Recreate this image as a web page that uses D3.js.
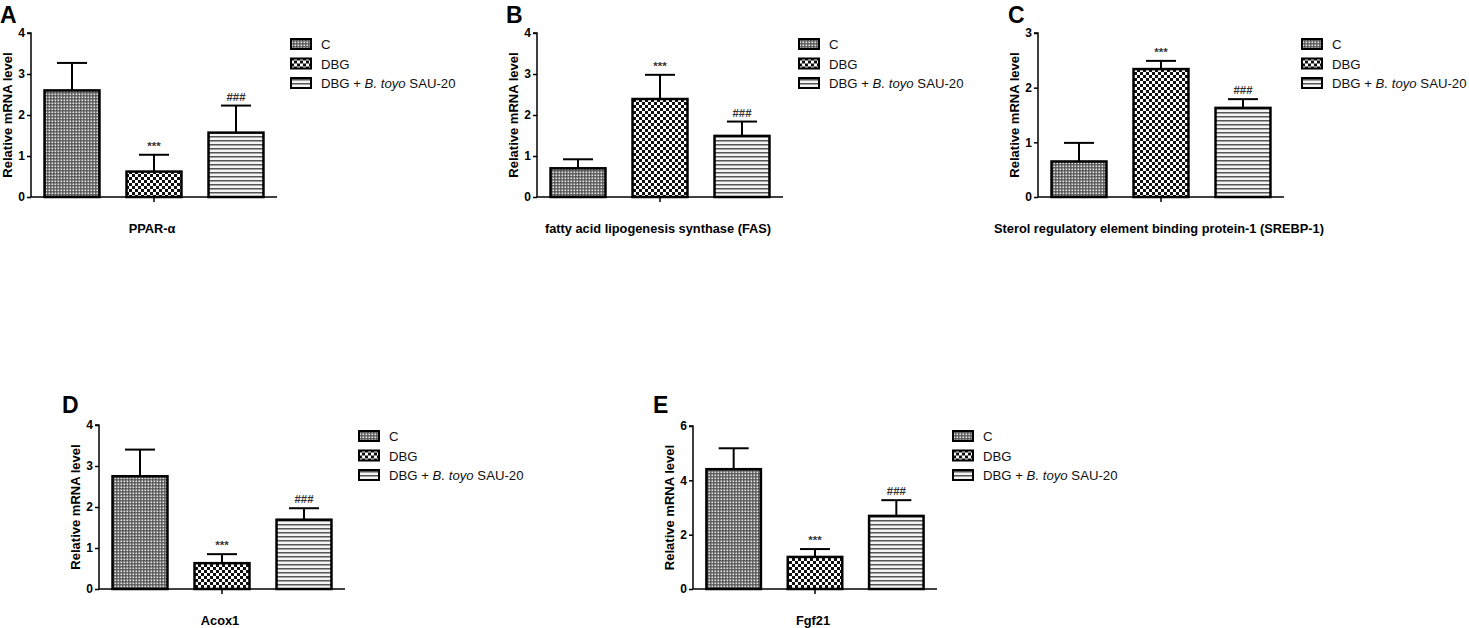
<!DOCTYPE html>
<html>
<head>
<meta charset="utf-8">
<script src="https://cdn.jsdelivr.net/npm/d3@7"></script>
<style>
  html, body { margin: 0; padding: 0; background: #fff; }
  svg { display: block; }
  text { font-family: "Liberation Sans", Arial, sans-serif; }
</style>
</head>
<body>
<svg id="chart" width="1469" height="628"></svg>
<script>
// ---- data ----
const groups = ["C", "DBG", "DBG + B. toyo SAU-20"];
const panelIds = ["A", "B", "C", "D", "E"];
const genes = ["PPAR-α", "fatty acid lipogenesis synthase (FAS)", "Sterol regulatory element binding protein-1 (SREBP-1)", "Acox1", "Fgf21"];
const meansA = [2.60, 0.62, 1.57];
const errA   = [3.27, 1.03, 2.23];
const meansB = [0.70, 2.39, 1.49];
const errB   = [0.92, 2.98, 1.84];
const meansC = [0.65, 2.34, 1.63];
const errC   = [0.99, 2.49, 1.79];
const meansD = [2.75, 0.63, 1.69];
const errD   = [3.40, 0.85, 1.97];
const meansE = [4.41, 1.18, 2.69];
const errE   = [5.18, 1.47, 3.27];
const yMax = [4, 4, 3, 4, 6];
const yTicks = [[0,1,2,3,4],[0,1,2,3,4],[0,1,2,3],[0,1,2,3,4],[0,2,4,6]];
const sigLabels = ["", "***", "###"];

// ---- layout (positions only) ----
const layout = [
  {x0: 31,   top: 33,  bottom: 197, w: 246, letterX: 0,   letterY: 23,  legX: 291,  legY: 44,  titleY: 233},
  {x0: 537,  top: 33,  bottom: 197, w: 246, letterX: 506, letterY: 23,  legX: 799,  legY: 44,  titleY: 233},
  {x0: 1038, top: 33,  bottom: 197, w: 246, letterX: 1008,letterY: 23,  legX: 1302, legY: 44,  titleY: 233},
  {x0: 99,   top: 425, bottom: 589, w: 246, letterX: 62,  letterY: 413, legX: 359,  legY: 436, titleY: 625},
  {x0: 693,  top: 426, bottom: 589, w: 244, letterX: 653, letterY: 413, legX: 953,  legY: 436, titleY: 625}
];
const means = [meansA, meansB, meansC, meansD, meansE];
const errs = [errA, errB, errC, errD, errE];

const svg = d3.select("#chart");
const defs = svg.append("defs");

// pattern C: fine grey dot grid
const pC = defs.append("pattern").attr("id", "patC").attr("patternUnits", "userSpaceOnUse")
  .attr("width", 3).attr("height", 3);
pC.append("rect").attr("width", 3).attr("height", 3).attr("fill", "#5a5a5a");
pC.append("rect").attr("x", 0.5).attr("y", 0.5).attr("width", 1.6).attr("height", 1.6).attr("fill", "#e8e8e8");

// pattern DBG: checkerboard
const pD = defs.append("pattern").attr("id", "patD").attr("patternUnits", "userSpaceOnUse")
  .attr("width", 6).attr("height", 6);
pD.append("rect").attr("width", 6).attr("height", 6).attr("fill", "#fff");
pD.append("rect").attr("x", 0).attr("y", 0).attr("width", 3).attr("height", 3).attr("fill", "#111");
pD.append("rect").attr("x", 3).attr("y", 3).attr("width", 3).attr("height", 3).attr("fill", "#111");

// pattern third: horizontal lines
const pH = defs.append("pattern").attr("id", "patH").attr("patternUnits", "userSpaceOnUse")
  .attr("width", 4).attr("height", 4);
pH.append("rect").attr("width", 4).attr("height", 4).attr("fill", "#f4f4f4");
pH.append("rect").attr("x", 0).attr("y", 0).attr("width", 4).attr("height", 1.5).attr("fill", "#555");

const fills = ["url(#patC)", "url(#patD)", "url(#patH)"];

layout.forEach((L, i) => {
  const g = svg.append("g");
  const x = d3.scaleBand().domain(groups).range([L.x0, L.x0 + L.w]).paddingInner(0.33).paddingOuter(0.165);
  const y = d3.scaleLinear().domain([0, yMax[i]]).range([L.bottom, L.top]);

  const data = groups.map((gname, k) => ({g: gname, v: means[i][k], e: errs[i][k], s: sigLabels[k], f: fills[k]}));

  // error bars (drawn before bars so bar covers the lower part)
  const eb = g.selectAll(".eb").data(data).enter().append("g");
  eb.append("line")
    .attr("x1", d => x(d.g) + x.bandwidth()/2).attr("x2", d => x(d.g) + x.bandwidth()/2)
    .attr("y1", d => y(d.v)).attr("y2", d => y(d.e))
    .attr("stroke", "#000").attr("stroke-width", 2);
  eb.append("line")
    .attr("x1", d => x(d.g) + x.bandwidth()/2 - 15).attr("x2", d => x(d.g) + x.bandwidth()/2 + 15)
    .attr("y1", d => y(d.e)).attr("y2", d => y(d.e))
    .attr("stroke", "#000").attr("stroke-width", 2);

  // bars
  g.selectAll(".bar").data(data).enter().append("rect")
    .attr("x", d => x(d.g)).attr("width", x.bandwidth())
    .attr("y", d => y(d.v)).attr("height", d => y(0) - y(d.v))
    .attr("fill", d => d.f).attr("stroke", "#000").attr("stroke-width", 2.5);

  // significance labels
  g.selectAll(".sig").data(data.filter(d => d.s)).enter().append("text")
    .attr("x", d => x(d.g) + x.bandwidth()/2).attr("y", d => y(d.e) - 5)
    .attr("text-anchor", "middle").attr("font-size", 11.5).attr("font-weight", "bold").attr("fill", "#333")
    .text(d => d.s);

  // y axis
  const yAxis = d3.axisLeft(y).tickValues(yTicks[i]).tickSize(4).tickPadding(2).tickFormat(d3.format("d"));
  const ya = g.append("g").attr("transform", `translate(${L.x0},0)`).call(yAxis);
  ya.select(".domain").attr("stroke", "#000").attr("stroke-width", 1.5).attr("d", `M-4,${L.top}H0V${L.bottom}`);
  ya.selectAll(".tick line").attr("stroke", "#000").attr("stroke-width", 1.5);
  ya.selectAll(".tick text").attr("font-size", 12).attr("font-weight", "bold").attr("fill", "#000")
    .style("font-family", "Liberation Sans, Arial, sans-serif");

  // x axis line with center tick
  g.append("line").attr("x1", L.x0).attr("x2", L.x0 + L.w).attr("y1", L.bottom).attr("y2", L.bottom)
    .attr("stroke", "#000").attr("stroke-width", 1.5);
  const cx = x(groups[1]) + x.bandwidth()/2;
  g.append("line").attr("x1", cx).attr("x2", cx).attr("y1", L.bottom).attr("y2", L.bottom + 5)
    .attr("stroke", "#000").attr("stroke-width", 1.5);

  // y label
  g.append("text")
    .attr("transform", `translate(${L.x0 - 19},${(L.top + L.bottom)/2}) rotate(-90)`)
    .attr("text-anchor", "middle").attr("font-size", 13).attr("font-weight", "bold")
    .text("Relative mRNA level");

  // x title
  g.append("text").attr("x", L.x0 + L.w/2 - 2).attr("y", L.titleY)
    .attr("text-anchor", "middle").attr("font-size", 12.8).attr("font-weight", "bold")
    .text(genes[i]);

  // panel letter
  g.append("text").attr("x", L.letterX).attr("y", L.letterY)
    .attr("font-size", 23).attr("font-weight", "bold").text(panelIds[i]);

  // legend
  const leg = g.selectAll(".leg").data(data).enter().append("g")
    .attr("transform", (d, k) => `translate(${L.legX},${L.legY + k * 19.5})`);
  leg.append("rect").attr("x", 0).attr("y", -5).attr("width", 20).attr("height", 10)
    .attr("fill", d => d.f).attr("stroke", "#000").attr("stroke-width", 2);
  const lt = leg.append("text").attr("x", 30).attr("y", 5).attr("font-size", 13.2).attr("fill", "#111");
  lt.each(function(d) {
    const t = d3.select(this);
    if (d.g.indexOf("B. toyo") >= 0) {
      t.append("tspan").text("DBG + ");
      t.append("tspan").attr("font-style", "italic").text("B. toyo");
      t.append("tspan").text(" SAU-20");
    } else {
      t.text(d.g);
    }
  });
});
</script>
</body>
</html>
